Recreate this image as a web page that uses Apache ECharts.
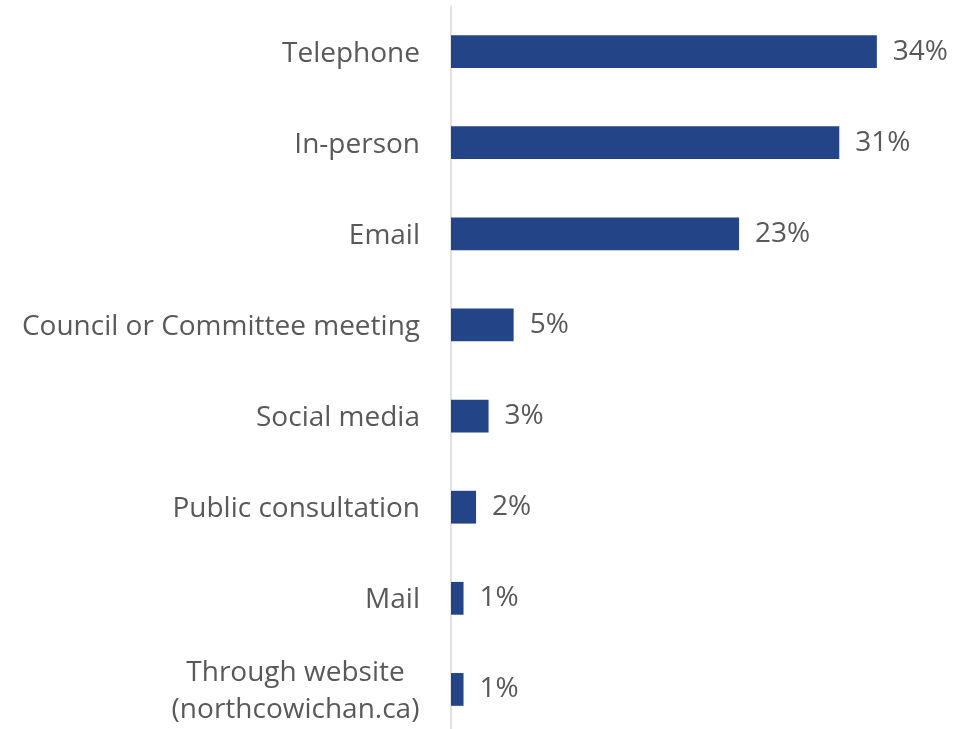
<!DOCTYPE html>
<html>
<head>
<meta charset="utf-8">
<script src="https://cdn.jsdelivr.net/npm/echarts@6/dist/echarts.min.js"></script>
<style>
  html, body { margin: 0; padding: 0; background: #ffffff; }
  #chart { width: 965px; height: 729px; }
</style>
</head>
<body>
<div id="chart"></div>
<script>
// Ways residents contacted the municipality (share of responses, %)
const categories = [
  'Telephone',
  'In-person',
  'Email',
  'Council or Committee meeting',
  'Social media',
  'Public consultation',
  'Mail',
  'Through website\n(northcowichan.ca)'
];
const shares = [34, 31, 23, 5, 3, 2, 1, 1];

const FONT = '"Open Sans", "Noto Sans", sans-serif';
const TEXT_COLOR = '#595959';
const BAR_COLOR = '#234587';

const chart = echarts.init(document.getElementById('chart'), null, { renderer: 'canvas' });

chart.setOption({
  animation: false,
  backgroundColor: '#ffffff',
  // plot area runs a little past the bottom edge of the canvas
  grid: {
    left: 451, width: 501, top: 6, height: 729,
    containLabel: false,
    outerBoundsMode: 'none'
  },
  xAxis: {
    type: 'value',
    min: 0,
    max: 40,
    show: false
  },
  yAxis: {
    type: 'category',
    data: categories,
    inverse: true,
    axisLine: { show: true, lineStyle: { color: '#d9d9d9', width: 1.5 } },
    axisTick: { show: false },
    splitLine: { show: false },
    axisLabel: {
      margin: 31,
      color: TEXT_COLOR,
      fontFamily: FONT,
      fontSize: 28,
      lineHeight: 37,
      padding: [4, 0, 0, 0],
      // wrapped labels have their lines centred on each other
      formatter: function (v) {
        if (v.indexOf('\n') >= 0) {
          return v.split('\n').map(function (s) { return '{c|' + s + '}'; }).join('\n');
        }
        return v;
      },
      rich: {
        c: {
          width: 249,
          align: 'center',
          color: TEXT_COLOR,
          fontFamily: FONT,
          fontSize: 28,
          lineHeight: 37
        }
      }
    }
  },
  series: [{
    type: 'bar',
    data: shares,
    barWidth: '36%',
    itemStyle: { color: BAR_COLOR },
    label: {
      show: true,
      position: 'right',
      distance: 16,
      color: TEXT_COLOR,
      fontFamily: FONT,
      fontSize: 28,
      padding: [4, 0, 0, 0],
      formatter: '{c}%'
    }
  }]
});
</script>
</body>
</html>
